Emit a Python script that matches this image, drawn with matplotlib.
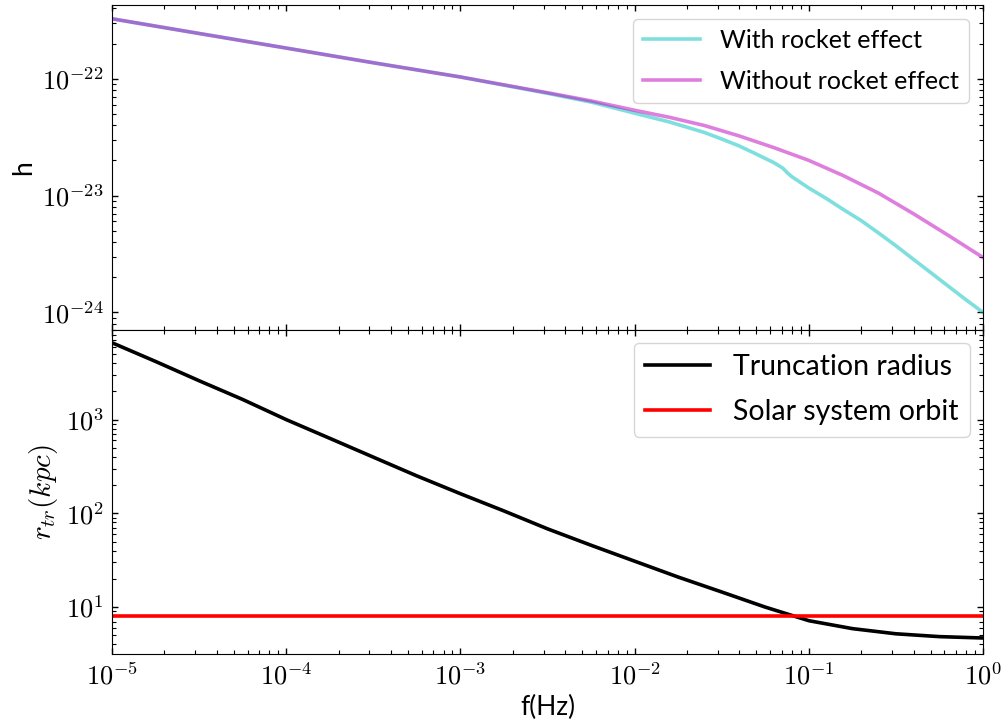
import numpy as np
import matplotlib
matplotlib.use("Agg")
import matplotlib.pyplot as plt
from matplotlib.ticker import FuncFormatter, NullFormatter

# ---- data ----
f_with = [1e-5, 3.16e-5, 1e-4, 3.16e-4, 1e-3, 3.16e-3, 5.62e-3, 1e-2, 1.58e-2,
          2.51e-2, 3.16e-2, 3.98e-2, 5.01e-2, 6.31e-2, 7.08e-2, 7.59e-2,
          7.94e-2, 1e-1, 1.26e-1, 1.58e-1, 2.0e-1, 2.51e-1, 3.16e-1, 3.98e-1,
          5.01e-1, 6.31e-1, 7.94e-1, 1.0]
h_with = [3.26e-22, 2.44e-22, 1.83e-22, 1.37e-22, 1.035e-22, 7.50e-23, 6.31e-23,
          5.07e-23, 4.27e-23, 3.47e-23, 3.05e-23, 2.66e-23, 2.26e-23, 1.91e-23,
          1.72e-23, 1.55e-23, 1.46e-23, 1.16e-23, 9.44e-24, 7.59e-24, 6.10e-24,
          4.79e-24, 3.72e-24, 2.85e-24, 2.19e-24, 1.68e-24, 1.29e-24, 1.0e-24]

f_without = [1e-5, 3.16e-5, 1e-4, 3.16e-4, 1e-3, 3.16e-3, 5.62e-3, 1e-2, 1.58e-2,
             2.51e-2, 3.98e-2, 6.31e-2, 1e-1, 1.58e-1, 2.51e-1, 3.98e-1,
             6.31e-1, 1.0]
h_without = [3.26e-22, 2.44e-22, 1.83e-22, 1.37e-22, 1.035e-22, 7.59e-23,
             6.46e-23, 5.37e-23, 4.68e-23, 3.98e-23, 3.24e-23, 2.57e-23,
             2.00e-23, 1.48e-23, 1.05e-23, 7.00e-24, 4.57e-24, 2.95e-24]

f_trunc = [1e-5, 1.78e-5, 3.16e-5, 5.62e-5, 1e-4, 1.78e-4, 3.16e-4, 5.62e-4,
           1e-3, 1.78e-3, 3.16e-3, 5.62e-3, 1e-2, 1.78e-2, 3.16e-2, 5.62e-2,
           1e-1, 1.78e-1, 3.16e-1, 5.62e-1, 1.0]
r_trunc = [6607, 4169, 2600, 1641, 1000, 631, 398, 251, 162, 106, 68.4, 45.7,
           30.9, 20.9, 14.5, 10.0, 7.16, 5.89, 5.19, 4.84, 4.68]

f_range = [1e-5, 1.0]
r_solar = [8.0, 8.0]

plt.rcParams['mathtext.fontset'] = 'cm'
plt.rcParams['font.family'] = ['Lato', 'DejaVu Sans']

fig, (ax1, ax2) = plt.subplots(2, 1, sharex=True, figsize=(10.02, 7.26), dpi=100)
fig.subplots_adjust(left=0.1118, right=0.981, top=0.9925, bottom=0.0992, hspace=0)

ax1.plot(f_with, h_with, color='c', alpha=0.5, lw=2.6, label='With rocket effect')
ax1.plot(f_without, h_without, color='m', alpha=0.5, lw=2.6,
         label='Without rocket effect')
ax1.set_xscale('log')
ax1.set_yscale('log')
ax1.set_ylim(7.1e-25, 4.24e-22)
ax1.set_ylabel('h', fontsize=19)
ax1.legend(loc='upper right', fontsize=18, handlelength=2.3,
           labelspacing=0.7, borderaxespad=0.55)

ax2.plot(f_trunc, r_trunc, color='k', lw=2.6, label='Truncation radius')
ax2.plot(f_range, r_solar, color='r', lw=2.6, label='Solar system orbit')
ax2.set_xscale('log')
ax2.set_yscale('log')
ax2.set_xlim(1e-5, 1.0)
ax2.set_ylim(3.16, 9.1e3)
ax2.set_ylabel(r'$r_{tr}(kpc)$', fontsize=21)
ax2.set_xlabel('f(Hz)', fontsize=19)
ax2.legend(loc='upper right', fontsize=20.5, handlelength=2.3,
           labelspacing=0.68, borderaxespad=0.45)

fmt = FuncFormatter(lambda v, p: r'$10^{%d}$' % int(round(np.log10(v))))
for ax in (ax1, ax2):
    ax.xaxis.set_major_formatter(fmt)
    ax.yaxis.set_major_formatter(fmt)
    ax.xaxis.set_minor_formatter(NullFormatter())
    ax.yaxis.set_minor_formatter(NullFormatter())
    ax.tick_params(which='both', direction='in', top=True, right=True,
                   labelsize=19, pad=6)
    ax.tick_params(which='major', length=4.5, width=1.0)
    ax.tick_params(which='minor', length=2.8, width=0.8)
ax1.tick_params(labelbottom=False)

fig.savefig('out.png', dpi=100)
